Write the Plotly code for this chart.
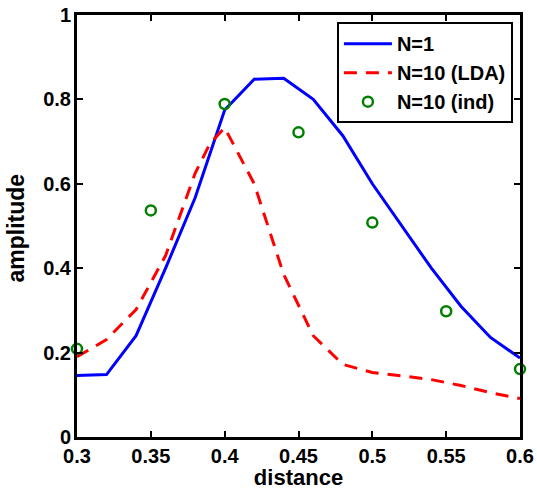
import plotly.graph_objects as go

# N=1 (solid blue)
x_n1 = [0.30, 0.32, 0.34, 0.36, 0.38, 0.40, 0.42, 0.44, 0.46, 0.48, 0.50, 0.52, 0.54, 0.56, 0.58, 0.60]
y_n1 = [0.146, 0.148, 0.240, 0.400, 0.567, 0.775, 0.848, 0.850, 0.800, 0.714, 0.600, 0.500, 0.400, 0.310, 0.236, 0.187]

# N=10 (LDA) (dashed red)
x_lda = [0.30, 0.32, 0.34, 0.36, 0.38, 0.39, 0.40, 0.42, 0.44, 0.46, 0.48, 0.50, 0.52, 0.54, 0.56, 0.58, 0.60]
y_lda = [0.190, 0.231, 0.302, 0.430, 0.625, 0.695, 0.733, 0.600, 0.385, 0.240, 0.172, 0.153, 0.145, 0.136, 0.122, 0.105, 0.091]

# N=10 (ind) (green circles)
x_ind = [0.30, 0.35, 0.40, 0.45, 0.50, 0.55, 0.60]
y_ind = [0.209, 0.537, 0.789, 0.722, 0.508, 0.298, 0.161]

x_ticks = [0.3, 0.35, 0.4, 0.45, 0.5, 0.55, 0.6]
x_ticklabels = ["0.3", "0.35", "0.4", "0.45", "0.5", "0.55", "0.6"]
y_ticks = [0, 0.2, 0.4, 0.6, 0.8, 1]
y_ticklabels = ["0", "0.2", "0.4", "0.6", "0.8", "1"]

FONT = "Liberation Sans, Arial, sans-serif"

fig = go.Figure()
fig.add_trace(go.Scatter(x=x_n1, y=y_n1, mode="lines", name="<b>N=1</b>",
                         line=dict(color="#0000ff", width=3)))
fig.add_trace(go.Scatter(x=x_lda, y=y_lda, mode="lines", name="<b>N=10 (LDA)</b>",
                         line=dict(color="#ff0000", width=3, dash="13px,9px")))
fig.add_trace(go.Scatter(x=x_ind, y=y_ind, mode="markers", name="<b>N=10 (ind)</b>",
                         marker=dict(symbol="circle-open", color="#008000", size=10,
                                     line=dict(width=2.5, color="#008000")),
                         cliponaxis=False))

axis_common = dict(showline=True, linecolor="black", linewidth=3, mirror="ticks",
                   ticks="inside", ticklen=6, tickwidth=2, tickcolor="black",
                   showgrid=False, zeroline=False, automargin=False,
                   tickfont=dict(family=FONT, size=20, color="black", weight="bold"))

fig.update_xaxes(range=[0.3, 0.6], tickvals=x_ticks, ticktext=x_ticklabels,
                 ticklabelstandoff=-1,
                 title=dict(text="<b>distance</b>", font=dict(family=FONT, size=22, color="black"), standoff=0),
                 **axis_common)
fig.update_yaxes(range=[0, 1], tickvals=y_ticks, ticktext=y_ticklabels,
                 ticklabelstandoff=-1,
                 **axis_common)

fig.add_annotation(text="<b>amplitude</b>", xref="paper", yref="paper",
                   x=-0.138, y=0.496, xanchor="center", yanchor="middle",
                   textangle=-90, showarrow=False,
                   font=dict(family=FONT, size=23, color="black"))

fig.update_layout(
    width=537, height=490,
    margin=dict(l=77, r=17, t=15, b=53),
    paper_bgcolor="white", plot_bgcolor="white",
    showlegend=True,
    legend=dict(x=0.984, y=0.983, xanchor="right", yanchor="top",
                bgcolor="white", bordercolor="black", borderwidth=2,
                font=dict(family=FONT, size=20, color="black"),
                itemwidth=48, tracegroupgap=0),
)

fig.write_html("out.html")
